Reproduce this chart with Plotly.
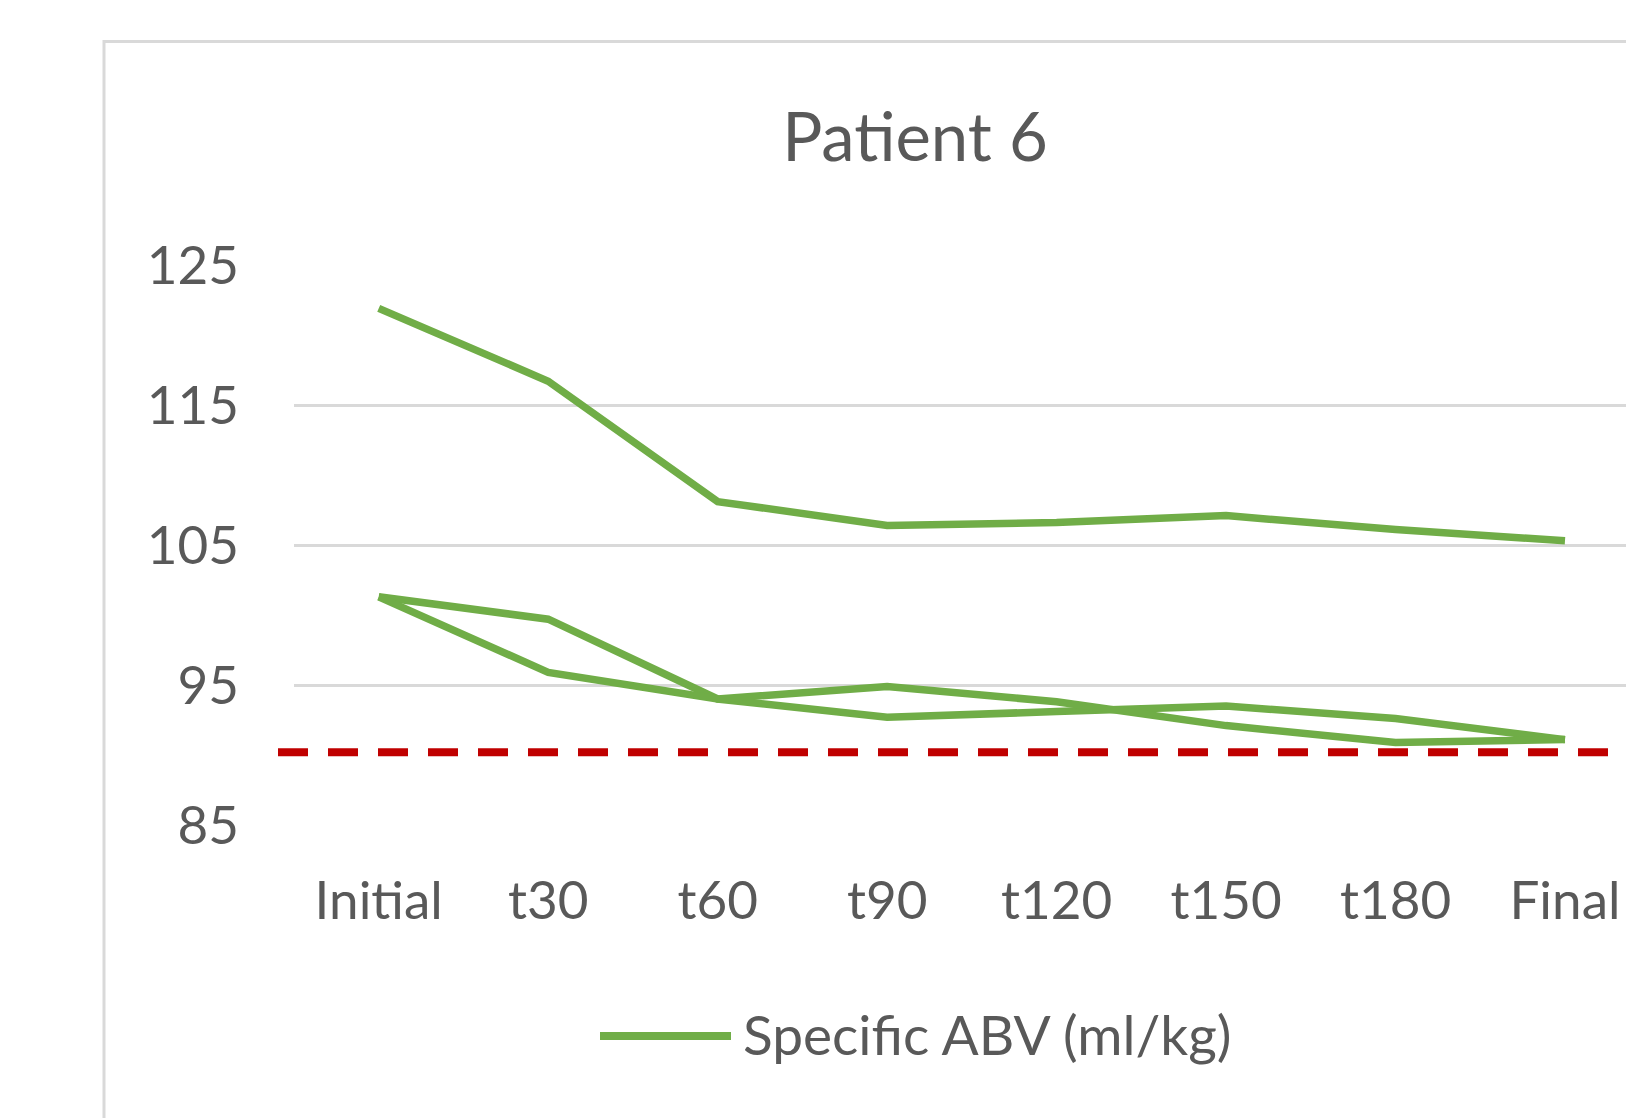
import plotly.graph_objects as go

# ---- data ----
categories = ["Initial", "t30", "t60", "t90", "t120", "t150", "t180", "Final"]
series_top = [121.9, 116.7, 108.1, 106.4, 106.6, 107.1, 106.1, 105.3]
series_mid = [101.3, 99.7, 94.0, 92.7, 93.1, 93.5, 92.6, 91.1]
series_low = [101.3, 95.9, 94.0, 94.9, 93.8, 92.1, 90.9, 91.1]
threshold = 90.2
series_name = "Specific ABV (ml/kg)"
title_text = "Patient 6"
y_ticks = [85, 95, 105, 115, 125]

# ---- layout geometry (pixels) ----
W, H = 1626, 1118
ML, MR, MT, MB = 294, 0, 265, 293
PW = W - ML - MR
PH = H - MT - MB
PLOT_BOTTOM = H - MB

def px_x(x):
    return (x - ML) / PW

def px_y(y):
    return (PLOT_BOTTOM - y) / PH

GREEN = "#70AD47"
TEXT = "#595959"
GRID = "#D9D9D9"
FONT = "Lato"

fig = go.Figure()
for ys in (series_top, series_mid, series_low):
    fig.add_trace(go.Scatter(
        x=categories, y=ys, mode="lines",
        line=dict(color=GREEN, width=7.5),
        name=series_name, showlegend=False, hoverinfo="x+y",
    ))

shapes = [
    # chart frame (cropped on right and bottom)
    dict(type="rect", xref="paper", yref="paper",
         x0=px_x(104), x1=px_x(W + 50), y0=px_y(H + 50), y1=px_y(41.5),
         line=dict(color=GRID, width=3), fillcolor="rgba(0,0,0,0)", layer="below"),
    # threshold dashed line
    dict(type="line", xref="paper", yref="y",
         x0=px_x(278), x1=px_x(W + 20), y0=threshold, y1=threshold,
         line=dict(color="#C00000", width=8, dash="30px,20px")),
    # legend swatch
    dict(type="line", xref="paper", yref="paper",
         x0=px_x(600), x1=px_x(731), y0=px_y(1036), y1=px_y(1036),
         line=dict(color=GREEN, width=8)),
]

annotations = [
    dict(text=series_name, xref="paper", yref="paper",
         x=px_x(741), y=px_y(1034), xanchor="left", yanchor="middle",
         showarrow=False, font=dict(family=FONT, size=55, color=TEXT)),
]

fig.update_layout(
    width=W, height=H,
    margin=dict(l=ML, r=MR, t=MT, b=MB, pad=0),
    paper_bgcolor="white", plot_bgcolor="white",
    showlegend=False,
    title=dict(text=title_text, xref="container", yref="container",
               x=915 / W, y=1 - 138 / H, xanchor="center", yanchor="middle",
               font=dict(family=FONT, size=67, color=TEXT)),
    shapes=shapes,
    annotations=annotations,
    xaxis=dict(
        type="category", range=[-0.5, 7.36], showgrid=False, showline=False,
        zeroline=False, ticks="", automargin=False,
        tickfont=dict(family=FONT, size=53, color=TEXT),
        ticklabelstandoff=40, fixedrange=True,
    ),
    yaxis=dict(
        range=[85, 125], tickvals=y_ticks, ticktext=[str(v) for v in y_ticks],
        showgrid=True, gridcolor=GRID, gridwidth=2.5, showline=False,
        zeroline=False, ticks="", automargin=False,
        tickfont=dict(family=FONT, size=53, color=TEXT),
        ticklabelstandoff=54, fixedrange=True,
    ),
)

fig.write_html("out.html")
